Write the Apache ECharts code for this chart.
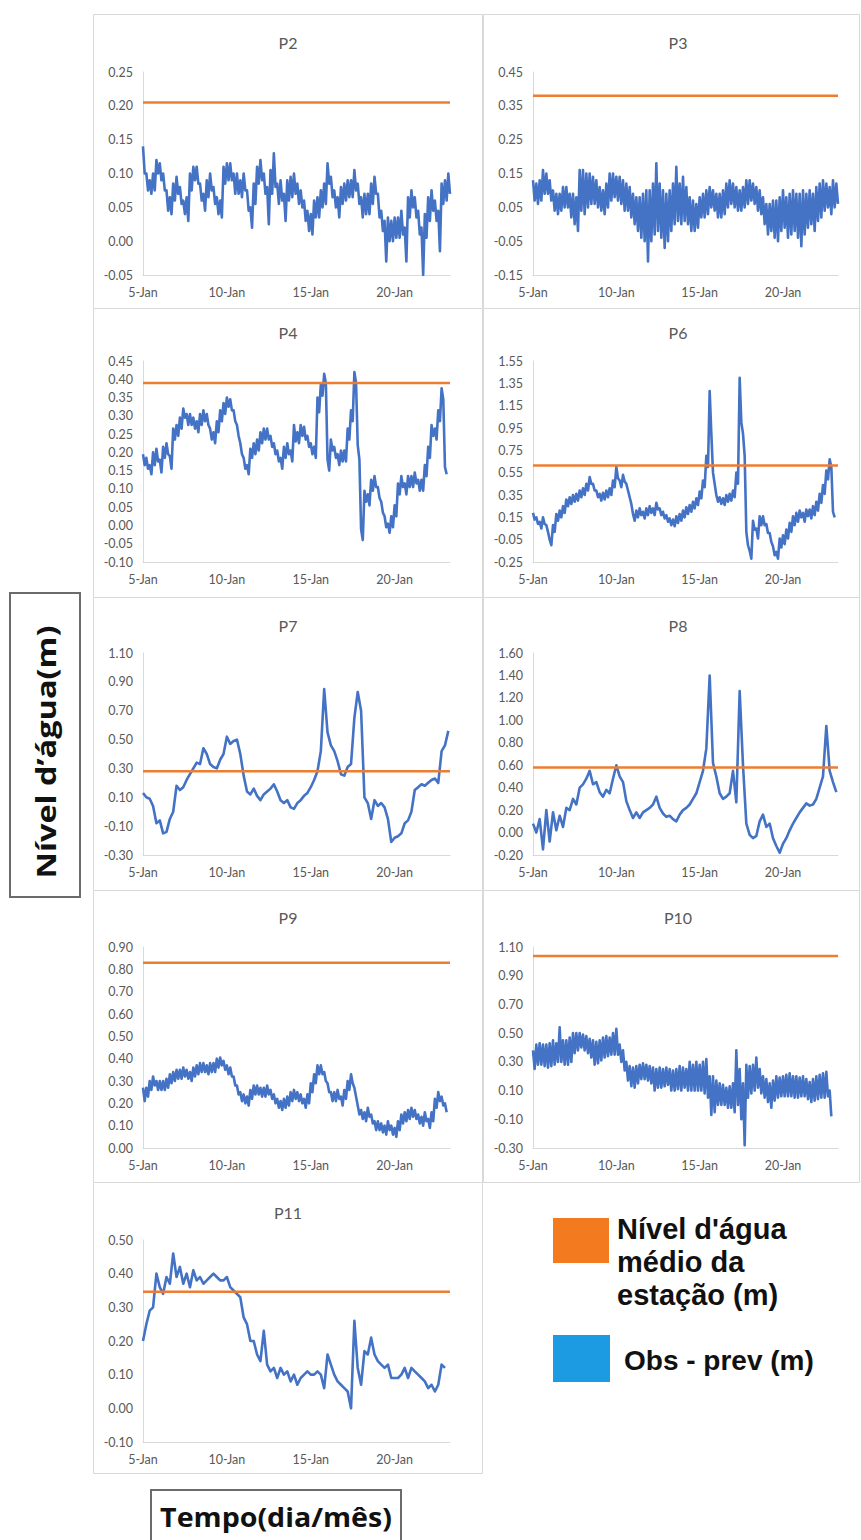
<!DOCTYPE html>
<html><head><meta charset="utf-8">
<script src="https://cdn.jsdelivr.net/npm/echarts@6/dist/echarts.min.js"></script>
<style>html,body{margin:0;padding:0;background:#fff}#c{width:861px;height:1540px}</style>
</head><body><div id="c"></div>
<script>
// ---------- DATA ----------
const titles = ['P2','P3','P4','P6','P7','P8','P9','P10','P11'];
const xTickDays = [5, 10, 15, 20];
const xMonth = 'Jan';
const startDay = 5, stepDay = 0.2, endDay = 23.3;   // readings every 0.2 day from 5-Jan
const yMin  = [-0.05, -0.15, -0.10, -0.25, -0.30, -0.20, 0.00, -0.30, -0.10];
const yMax  = [ 0.25,  0.45,  0.45,  1.55,  1.10,  1.60, 0.90,  1.10,  0.50];
const yStep = [ 0.05,  0.10,  0.05,  0.20,  0.20,  0.20, 0.10,  0.20,  0.10];
const means = [0.205, 0.38, 0.39, 0.615, 0.28, 0.58, 0.83, 1.037, 0.346];

// Noisy series: upper and lower edge of the hourly band, read every 0.2 day
const p2Hi = [.14,.10,.09,.10,.12,.115,.10,.075,.065,.085,
.095,.08,.06,.065,.10,.11,.11,.085,.07,.09,
.10,.08,.065,.06,.11,.115,.115,.10,.10,.09,
.10,.075,.05,.085,.11,.12,.10,.08,.105,.13,
.085,.09,.07,.09,.095,.10,.085,.075,.06,.045,
.04,.06,.065,.075,.085,.115,.095,.075,.065,.08,
.085,.09,.09,.105,.085,.065,.07,.07,.085,.095,
.07,.045,.03,.035,.03,.035,.035,.045,.02,.065,
.075,.065,.045,.02,.04,.065,.075,.06,.045,.085,
.09,.10];
const p2Lo = [.10,.075,.07,.075,.10,.09,.075,.045,.04,.06,
.07,.055,.04,.03,.075,.09,.085,.06,.045,.065,
.075,.055,.04,.035,.085,.09,.09,.07,.07,.065,
.075,.045,.02,.055,.085,.09,.07,.025,.07,.08,
.055,.06,.03,.06,.065,.07,.055,.05,.03,.015,
.01,.035,.035,.05,.055,.085,.065,.05,.035,.055,
.06,.065,.065,.075,.055,.035,.04,.04,.055,.07,
.035,.015,-.03,.0,.0,.005,.005,.01,-.03,.035,
.05,.035,.01,-.05,.005,.03,.045,.03,-.015,.055,
.06,.07];
const p3Hi = [.13,.12,.13,.16,.15,.13,.10,.09,.09,.11,
.11,.09,.09,.08,.16,.16,.15,.15,.14,.13,
.11,.10,.12,.15,.15,.14,.14,.13,.12,.11,
.09,.08,.08,.09,.10,.10,.12,.18,.12,.10,
.09,.10,.12,.17,.12,.14,.11,.08,.07,.06,
.08,.09,.10,.11,.10,.09,.09,.10,.12,.13,
.12,.11,.10,.11,.13,.13,.12,.11,.10,.08,
.06,.06,.07,.07,.08,.10,.08,.09,.10,.09,
.09,.10,.09,.10,.09,.11,.12,.13,.12,.11,
.13,.12];
const p3Lo = [.07,.06,.07,.09,.09,.07,.04,.03,.04,.05,
.05,.02,.0,-.02,.04,.03,.05,.06,.06,.05,
.04,.03,.05,.07,.08,.07,.06,.04,.04,.02,
.0,-.02,-.04,-.05,-.11,-.05,-.03,-.02,-.04,-.07,
-.05,-.02,.0,.01,.0,.01,.0,-.02,-.02,-.01,
.02,.02,.03,.05,.04,.02,.02,.03,.05,.06,
.05,.04,.04,.05,.06,.07,.06,.04,.03,.0,
-.03,-.02,-.04,-.05,-.02,-.01,-.04,-.03,-.02,-.04,
-.065,-.03,-.01,.0,-.02,.01,.02,.04,.05,.03,
.05,.06];
const p4Hi = [.195,.185,.165,.20,.21,.18,.215,.225,.19,.265,
.275,.295,.32,.305,.305,.295,.285,.305,.315,.305,
.265,.255,.285,.315,.335,.35,.345,.315,.275,.225,
.185,.165,.21,.225,.235,.255,.265,.265,.245,.225,
.205,.185,.215,.225,.205,.275,.255,.275,.27,.245,
.225,.215,.35,.385,.415,.18,.235,.215,.195,.205,
.205,.265,.315,.42,.22,-.01,.095,.085,.125,.135,
.105,.065,.025,.005,.025,.055,.115,.135,.115,.135,
.135,.145,.125,.125,.165,.215,.275,.265,.315,.375,
.16];
const p4Lo = [.165,.155,.14,.165,.175,.145,.185,.195,.155,.235,
.245,.265,.295,.275,.275,.265,.255,.275,.285,.275,
.235,.225,.255,.285,.305,.325,.315,.285,.245,.195,
.155,.14,.185,.195,.205,.225,.235,.235,.215,.195,
.175,.155,.185,.195,.175,.23,.225,.245,.235,.215,
.195,.185,.31,.355,.39,.15,.205,.185,.165,.175,
.175,.235,.285,.39,.18,-.04,.065,.055,.095,.105,
.075,.035,-.005,-.02,-.005,.025,.085,.105,.085,.105,
.105,.115,.095,.095,.135,.185,.245,.235,.285,.345,
.14];
const p6Hi = [.19,.15,.11,.15,.08,-.05,.08,.18,.21,.25,
.31,.33,.35,.36,.39,.41,.45,.51,.45,.39,
.36,.37,.39,.41,.48,.60,.48,.53,.45,.33,
.18,.21,.23,.20,.23,.25,.23,.28,.23,.20,
.17,.14,.13,.16,.18,.21,.24,.26,.29,.32,
.38,.48,.70,1.28,.55,.35,.33,.32,.35,.36,
.39,.55,1.40,.90,.02,-.15,.12,.05,.16,.16,
.09,.01,-.11,-.16,-.04,-.01,.04,.10,.16,.19,
.21,.19,.22,.22,.25,.29,.36,.44,.57,.67,
.20];
const p6Lo = [.13,.09,.05,.09,.02,-.10,.02,.12,.15,.19,
.25,.27,.29,.30,.33,.35,.39,.45,.39,.33,
.30,.31,.33,.35,.42,.50,.42,.47,.39,.27,
.12,.15,.17,.14,.17,.19,.17,.22,.17,.14,
.11,.08,.07,.10,.12,.15,.18,.20,.23,.26,
.32,.42,.60,.90,.45,.29,.27,.26,.29,.30,
.33,.45,1.00,.70,-.10,-.22,.04,-.04,.08,.08,
.01,-.07,-.19,-.22,-.12,-.09,-.04,.02,.08,.11,
.15,.11,.16,.14,.17,.21,.28,.36,.49,.60,
.15];
const p9Hi = [.27,.27,.30,.32,.30,.30,.30,.31,.33,.34,
.35,.35,.36,.35,.34,.36,.37,.38,.38,.37,
.38,.38,.40,.405,.39,.37,.36,.32,.28,.25,
.24,.23,.26,.28,.28,.27,.27,.28,.26,.24,
.22,.21,.22,.23,.25,.26,.25,.24,.22,.24,
.29,.33,.37,.37,.34,.29,.25,.25,.26,.23,
.26,.30,.33,.27,.19,.17,.16,.18,.15,.12,
.12,.11,.10,.12,.10,.09,.12,.15,.16,.17,
.18,.17,.15,.14,.16,.13,.16,.22,.25,.23,
.20];
const p9Lo = [.21,.23,.26,.28,.26,.26,.26,.27,.29,.30,
.31,.31,.32,.31,.30,.32,.33,.34,.34,.33,
.34,.34,.36,.37,.35,.33,.32,.28,.24,.21,
.20,.19,.22,.24,.24,.23,.23,.24,.22,.20,
.18,.17,.18,.19,.21,.22,.21,.20,.18,.20,
.25,.29,.33,.33,.30,.25,.21,.21,.22,.19,
.22,.26,.29,.23,.15,.13,.12,.14,.11,.08,
.08,.07,.06,.08,.06,.05,.08,.11,.12,.13,
.14,.13,.11,.10,.12,.09,.12,.18,.21,.19,
.16];
const p10Hi = [.38,.42,.43,.42,.42,.43,.45,.43,.54,.45,
.45,.47,.50,.50,.50,.49,.48,.46,.45,.44,
.45,.47,.48,.47,.50,.53,.42,.38,.30,.27,
.26,.27,.28,.29,.28,.27,.26,.25,.26,.25,
.26,.25,.24,.25,.27,.26,.25,.30,.28,.30,
.28,.30,.32,.20,.20,.17,.15,.14,.12,.13,
.15,.38,.25,.15,.28,.27,.28,.33,.25,.20,
.18,.15,.17,.20,.19,.20,.21,.22,.20,.20,
.19,.20,.18,.16,.18,.20,.21,.22,.23,.10];
const p10Lo = [.25,.28,.28,.27,.26,.27,.28,.30,.30,.28,
.28,.30,.36,.38,.40,.38,.36,.33,.28,.29,
.31,.33,.34,.35,.35,.35,.30,.24,.17,.13,
.12,.15,.18,.18,.17,.15,.10,.12,.12,.13,
.14,.10,.10,.11,.10,.12,.10,.10,.10,.10,
.10,.08,.05,-.07,-.05,.0,.0,.0,-.02,-.02,
-.05,.0,-.10,-.28,.05,.08,.10,.12,.08,.05,
.02,-.02,.03,.05,.06,.06,.06,.06,.05,.05,
.06,.06,.04,.02,.03,.04,.05,.05,.06,-.08];

// Smoother series: one reading every 0.2 day
const p7 = [0.13,0.10,0.09,0.04,-0.08,-0.06,-0.15,-0.14,-0.05,0.00,
0.18,0.15,0.17,0.22,0.26,0.30,0.34,0.33,0.44,0.40,
0.33,0.31,0.30,0.36,0.40,0.52,0.47,0.49,0.50,0.40,
0.25,0.14,0.12,0.16,0.11,0.08,0.12,0.14,0.16,0.19,
0.14,0.08,0.06,0.08,0.03,0.02,0.06,0.08,0.11,0.13,
0.17,0.22,0.28,0.42,0.85,0.55,0.46,0.42,0.35,0.26,
0.25,0.31,0.33,0.65,0.83,0.70,0.10,0.06,-0.05,0.08,
0.04,0.06,0.03,-0.05,-0.21,-0.18,-0.17,-0.15,-0.08,-0.06,
0.00,0.15,0.17,0.19,0.18,0.20,0.22,0.23,0.20,0.42,
0.46,0.56];
const p8 = [0.08,0.00,0.12,-0.15,0.20,-0.08,0.18,0.02,0.15,0.05,
0.22,0.20,0.30,0.25,0.40,0.43,0.48,0.55,0.43,0.45,
0.36,0.32,0.38,0.35,0.48,0.60,0.50,0.45,0.28,0.20,
0.13,0.18,0.13,0.18,0.20,0.22,0.25,0.32,0.22,0.17,
0.14,0.15,0.12,0.10,0.16,0.20,0.22,0.25,0.30,0.35,
0.45,0.55,0.75,1.40,0.62,0.50,0.35,0.30,0.32,0.35,
0.55,0.27,1.26,0.60,0.08,-0.02,-0.05,-0.03,0.10,0.16,
0.05,0.08,-0.05,-0.12,-0.18,-0.10,-0.05,0.02,0.08,0.13,
0.18,0.22,0.26,0.24,0.25,0.30,0.40,0.50,0.95,0.55,
0.45,0.36];
const p11 = [0.20,0.25,0.29,0.30,0.40,0.36,0.34,0.39,0.37,0.46,
0.39,0.42,0.37,0.40,0.36,0.41,0.38,0.39,0.37,0.38,
0.39,0.40,0.39,0.38,0.38,0.39,0.36,0.35,0.34,0.33,
0.27,0.25,0.20,0.20,0.16,0.14,0.23,0.13,0.11,0.12,
0.09,0.12,0.10,0.11,0.08,0.10,0.07,0.09,0.10,0.11,
0.10,0.10,0.11,0.10,0.06,0.16,0.13,0.10,0.08,0.07,
0.06,0.05,0.00,0.26,0.12,0.07,0.17,0.16,0.21,0.16,
0.14,0.13,0.12,0.13,0.09,0.09,0.09,0.10,0.12,0.09,
0.12,0.11,0.10,0.09,0.08,0.06,0.07,0.05,0.07,0.13,
0.12];

// per panel: either [hi, lo] band edges or a single reading list
const obsPrev = [[p2Hi, p2Lo], [p3Hi, p3Lo], [p4Hi, p4Lo], [p6Hi, p6Lo], [p7], [p8], [p9Hi, p9Lo], [p10Hi, p10Lo], [p11]];

const legendMean = "Nível d'água\nmédio da\nestação (m)";
const legendObs = 'Obs - prev (m)';
const yAxisTitle = "Nível d’água(m)";
const xAxisTitle = 'Tempo(dia/mês)';

// ---------- LAYOUT ----------
const colGrid = [{left: 143, width: 307}, {left: 533, width: 305}];
const rowGrid = [{top: 72, height: 203}, {top: 361, height: 201}, {top: 653, height: 202}, {top: 947, height: 201}, {top: 1240, height: 202}];
const colFrame = [{x: 93, w: 389}, {x: 483, w: 376}];
const rowFrame = [{y: 14, h: 294}, {y: 308, h: 289}, {y: 597, h: 293}, {y: 890, h: 292}, {y: 1182, h: 291}];
const titleX = [288, 678];
const titleY = [42, 332, 625, 917, 1212];

const BLUE = '#4472C4', ORANGE = '#ED7D31', LABEL = '#595959', AXIS = '#D9D9D9';
const FONT = 'Lato, "Open Sans", sans-serif';

function seriesData(src) {
  const out = [];
  if (src.length === 2) {
    const [hi, lo] = src;
    hi.forEach((v, k) => {
      const t = startDay + k * stepDay;
      out.push([t, v]);
      out.push([t + stepDay / 2, lo[k]]);
    });
  } else {
    src[0].forEach((v, k) => out.push([startDay + k * stepDay, v]));
  }
  return out;
}

const grids = [], xAxes = [], yAxes = [], series = [], gfx = [];
titles.forEach((t, i) => {
  const r = Math.floor(i / 2), c = i % 2;
  grids.push({left: colGrid[c].left, width: colGrid[c].width, top: rowGrid[r].top, height: rowGrid[r].height});
  xAxes.push({
    type: 'value', gridIndex: i, min: startDay, max: endDay, interval: 5,
    axisLine: {show: true, onZero: false, lineStyle: {color: AXIS, width: 1}},
    axisTick: {show: false}, splitLine: {show: false},
    axisLabel: {color: LABEL, fontSize: 12.5, fontFamily: FONT, margin: 11, showMaxLabel: false,
      formatter: v => (xTickDays.indexOf(Math.round(v * 1000) / 1000) >= 0 ? Math.round(v) + '-' + xMonth : '')}
  });
  yAxes.push({
    type: 'value', gridIndex: i, min: yMin[i], max: yMax[i], interval: yStep[i],
    axisLine: {show: true, onZero: false, lineStyle: {color: AXIS, width: 1}},
    axisTick: {show: false}, splitLine: {show: false},
    axisLabel: {color: LABEL, fontSize: 12.5, fontFamily: FONT, margin: 10, formatter: v => v.toFixed(2)}
  });
  const band = obsPrev[i].length === 2;
  series.push({
    type: 'line', xAxisIndex: i, yAxisIndex: i, showSymbol: false, symbol: 'none',
    lineStyle: {color: BLUE, width: band ? 2.6 : 2.6, join: 'round'}, z: 2, silent: true,
    data: seriesData(obsPrev[i])
  });
  series.push({
    type: 'line', xAxisIndex: i, yAxisIndex: i, showSymbol: false, symbol: 'none',
    lineStyle: {color: ORANGE, width: 2.5}, z: 3, silent: true,
    data: [[startDay, means[i]], [endDay, means[i]]]
  });
  gfx.push({type: 'rect', shape: {x: colFrame[c].x + 0.5, y: rowFrame[r].y + 0.5, width: colFrame[c].w, height: rowFrame[r].h},
    style: {fill: 'none', stroke: AXIS, lineWidth: 1}, z: 0});
  gfx.push({type: 'text', x: titleX[c], y: titleY[r],
    style: {text: t, fill: LABEL, fontSize: 16, fontFamily: FONT, align: 'center', verticalAlign: 'middle'}});
});

// legend
gfx.push({type: 'rect', shape: {x: 553, y: 1218, width: 56, height: 45}, style: {fill: '#F47A20'}});
gfx.push({type: 'text', x: 617, y: 1212,
  style: {text: legendMean, fill: '#111', fontSize: 29, fontWeight: 'bold', fontFamily: '"Liberation Sans", Arial, sans-serif', lineHeight: 33, align: 'left', verticalAlign: 'top'}});
gfx.push({type: 'rect', shape: {x: 553, y: 1335, width: 57, height: 47}, style: {fill: '#1C9BE2'}});
gfx.push({type: 'text', x: 624, y: 1360,
  style: {text: legendObs, fill: '#111', fontSize: 28, fontWeight: 'bold', fontFamily: '"Liberation Sans", Arial, sans-serif', align: 'left', verticalAlign: 'middle'}});

// axis title boxes
gfx.push({type: 'rect', shape: {x: 10, y: 593, width: 70, height: 304}, style: {fill: '#fff', stroke: '#6b6b6b', lineWidth: 2}});
gfx.push({type: 'text', x: 46, y: 752, rotation: Math.PI / 2, scaleX: 1.25,
  style: {text: yAxisTitle, fill: '#111', fontSize: 26, fontWeight: 'bold', fontFamily: '"Open Sans", sans-serif', align: 'center', verticalAlign: 'middle'}});
gfx.push({type: 'rect', shape: {x: 151, y: 1490, width: 250, height: 70}, style: {fill: '#fff', stroke: '#6b6b6b', lineWidth: 2}});
gfx.push({type: 'text', x: 276, y: 1517, scaleX: 1.1,
  style: {text: xAxisTitle, fill: '#111', fontSize: 26, fontWeight: 'bold', fontFamily: '"Open Sans", sans-serif', align: 'center', verticalAlign: 'middle'}});

const chart = echarts.init(document.getElementById('c'), null, {renderer: 'svg', width: 861, height: 1540});
chart.setOption({
  backgroundColor: '#fff', animation: false,
  grid: grids, xAxis: xAxes, yAxis: yAxes, series: series,
  graphic: {elements: gfx}
});
</script></body></html>
